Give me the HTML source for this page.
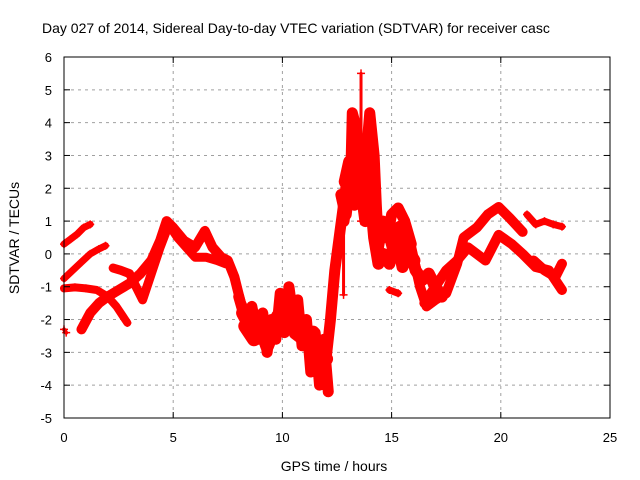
<!DOCTYPE html>
<html><head><meta charset="utf-8">
<style>
body{margin:0;background:#fff}
svg{display:block;font-family:"Liberation Sans",sans-serif}
</style></head>
<body>
<svg id="chart" width="640" height="480" viewBox="0 0 640 480">
<rect width="640" height="480" fill="#fff"/>
<text x="42" y="33" font-size="14" fill="#000">Day 027 of 2014, Sidereal Day-to-day VTEC variation (SDTVAR) for receiver casc</text>
<g id="grid"></g>
<g id="marks"></g>
<g id="axes"></g>
<text x="334" y="471" font-size="14" text-anchor="middle">GPS time / hours</text>
<text transform="translate(19,238) rotate(-90)" font-size="14" text-anchor="middle">SDTVAR / TECUs</text>
</svg>
<script>
const xTicks=[0,5,10,15,20,25];
const yTicks=[-5,-4,-3,-2,-1,0,1,2,3,4,5,6];
const s1h=[0,0.3,0.6,0.9,1.2];
const s1v=[0.3,0.45,0.6,0.8,0.9];
const s2h=[0,0.4,0.8,1.2,1.6,1.9];
const s2v=[-0.75,-0.5,-0.25,0,0.15,0.25];
const s3h=[0,0.5,1.0,1.5,2.0,2.4,2.7,2.9];
const s3v=[-1.05,-1.02,-1.05,-1.1,-1.3,-1.6,-1.9,-2.1];
const s4h=[0,0.1];
const s4v=[-2.3,-2.4];
const s5h=[0.8,1.2,1.6,2.0,2.5,3.0,3.5,4.0,4.4,4.7,5.0,5.5,6.0,6.45,6.8,7.2,7.5,7.8,8.1,8.5];
const s5v=[-2.3,-1.8,-1.5,-1.3,-1.1,-0.9,-0.6,-0.2,0.4,1.0,0.8,0.4,0.2,0.7,0.2,-0.1,-0.2,-0.7,-1.5,-2.0];
const s6h=[2.25,2.6,3.0,3.3,3.6,4.0,4.4,4.8,5.2,5.6,6.0,6.5,7.0,7.4];
const s6v=[-0.43,-0.5,-0.6,-1.0,-1.4,-0.6,0.2,0.9,0.5,0.2,-0.1,-0.1,-0.2,-0.3];
const s7h=[8.0,8.3,8.6,8.9,9.1,9.3,9.5,9.7,9.9,10.1,10.3,10.5,10.7,10.9,11.1,11.3,11.5,11.7,11.9,12.1];
const s7v=[-1.3,-2.0,-1.6,-2.6,-1.8,-3.0,-2.0,-2.6,-1.2,-2.4,-1.0,-2.0,-1.4,-2.8,-2.0,-3.6,-2.4,-4.0,-2.6,-4.2];
const s8h=[8.2,8.6,9.0,9.4,9.8,10.2,10.6,11.0,11.4,11.8,12.0];
const s8v=[-1.8,-2.3,-2.0,-2.5,-1.9,-1.6,-2.4,-2.6,-2.8,-3.0,-3.2];
const s9h=[12.0,12.2,12.4,12.6,12.8,13.0,13.1,13.2,13.4,13.5,13.7,13.9,14.0,14.2,14.3,14.4,14.6,14.8,15.0,15.3,15.6,15.9];
const s9v=[-3.2,-2.0,-0.5,0.5,1.5,2.5,1.5,4.3,3.8,2.0,3.0,3.5,4.3,3.0,1.5,0.2,1.0,0.5,1.2,1.4,1.0,0.3];
const s10h=[12.8,13.0,13.3,13.6,13.8,14.0,14.2,14.4,14.6,14.9,15.2,15.5,15.8,16.1,16.4,16.7,17.0,17.3];
const s10v=[1.0,2.0,1.5,2.0,1.0,2.0,0.5,-0.3,0,-0.3,0.6,-0.4,0.2,-0.5,-0.8,-0.6,-1.0,-1.3];
const s11h=[13.6,13.6];
const s11v=[1.0,5.5];
const s12h=[12.8,12.8];
const s12v=[1.5,-1.25];
const s13h=[14.9,15.3];
const s13v=[-1.1,-1.2];
const s14h=[15.9,16.3,16.6,17.0,17.5,18.0,18.3,18.9,19.4,19.9,20.4,21.0];
const s14v=[0.2,-1.0,-1.6,-1.4,-1.2,-0.3,0.5,0.8,1.2,1.43,1.1,0.67];
const s15h=[16.5,17.0,17.5,18.0,18.5,19.3,19.9,20.5,21.0,21.6,22.2,22.8];
const s15v=[-1.5,-1.0,-0.5,-0.2,0.2,-0.2,0.58,0.3,0.0,-0.4,-0.5,-1.1];
const s16h=[21.2,21.6,22.0,22.4,22.8];
const s16v=[1.2,0.9,1.0,0.9,0.83];
const s17h=[21.5,22.0,22.5,22.8];
const s17v=[-0.2,-0.5,-0.7,-0.3];
const s18h=[8.3,8.7,9.0,9.3,9.6,9.9,10.2,10.5,10.8,11.1,11.4,11.7];
const s18v=[-2.2,-2.6,-2.2,-2.8,-2.3,-2.0,-2.0,-1.6,-2.3,-2.6,-2.4,-3.4];
const s19h=[12.9,13.1,13.3,13.5,13.7,13.9,14.1,14.3];
const s19v=[2.2,2.8,2.0,2.6,1.8,3.0,2.2,0.8];
const s20h=[14.5,14.8,15.1,15.4,15.7,16.0];
const s20v=[0.5,0.9,0.2,0.8,0.1,-0.2];
const s21h=[12.7,12.9,13.1,13.3,13.5,13.7,13.9,14.1];
const s21v=[1.8,1.2,2.4,3.2,1.6,2.4,2.8,1.4];

const NS='http://www.w3.org/2000/svg';
const X0=64,X1=610,Y0=418,Y1=57;
function xs(h){return X0+(h-0)/(25-0)*(X1-X0);}
function ys(v){return Y0-(v-(-5))/(6-(-5))*(Y0-Y1);}
const grid=document.getElementById('grid'),axes=document.getElementById('axes'),marks=document.getElementById('marks');
function mk(tag,attrs,parent){const e=document.createElementNS(NS,tag);for(const k in attrs)e.setAttribute(k,attrs[k]);parent.appendChild(e);return e;}
xTicks.forEach(t=>{
  const x=xs(t);
  if(t>0&&t<25){const g=mk('line',{x1:x,x2:x,y1:Y1,y2:Y0,stroke:'#a0a0a0','stroke-dasharray':'3,4'},grid);
  
  }
  mk('line',{x1:x,x2:x,y1:Y0,y2:Y0-6,stroke:'#000'},axes);
  mk('line',{x1:x,x2:x,y1:Y1,y2:Y1+6,stroke:'#000'},axes);
  const tx=mk('text',{x:x,y:Y0+24,'font-size':13,'text-anchor':'middle'},axes);
  tx.textContent=t;
  
  
});
yTicks.forEach(t=>{
  const y=ys(t);
  if(t>-5&&t<6){const g=mk('line',{x1:X0,x2:X1,y1:y,y2:y,stroke:'#a0a0a0','stroke-dasharray':'3,4'},grid);
  
  }
  mk('line',{x1:X0,x2:X0+6,y1:y,y2:y,stroke:'#000'},axes);
  mk('line',{x1:X1,x2:X1-6,y1:y,y2:y,stroke:'#000'},axes);
  const tx=mk('text',{x:X0-12,y:y+5,'font-size':13,'text-anchor':'end'},axes);
  tx.textContent=t;
  
  
});
const fr=mk('rect',{x:X0,y:Y1,width:X1-X0,height:Y0-Y1,fill:'none',stroke:'#000','stroke-width':1},axes);


const series=[[s1h,s1v,7],[s2h,s2v,7],[s3h,s3v,8],[s4h,s4v,4],[s5h,s5v,10],[s6h,s6v,9],[s7h,s7v,11],[s8h,s8v,14],[s9h,s9v,11],[s10h,s10v,12],[s11h,s11v,3],[s12h,s12v,3],[s13h,s13v,7],[s14h,s14v,10],[s15h,s15v,10],[s16h,s16v,7],[s17h,s17v,10],[s18h,s18v,14],[s19h,s19v,14],[s20h,s20v,14],[s21h,s21v,12]];
series.forEach(([hs,vs,w],i)=>{
  const pts=hs.map((h,j)=>xs(h)+','+ys(vs[j])).join(' ');
  const pl=mk('polyline',{points:pts,fill:'none',stroke:'#ff0000','stroke-width':w,'stroke-linejoin':'round','stroke-linecap':'round'},marks);
  
  
  hs.forEach((h,j)=>{
    const x=xs(h),y=ys(vs[j]);
    const p=mk('path',{d:`M${x-4},${y}H${x+4}M${x},${y-4}V${y+4}`,stroke:'#ff0000','stroke-width':1.5},marks);
    
    
  });
});
</script>
</body></html>
